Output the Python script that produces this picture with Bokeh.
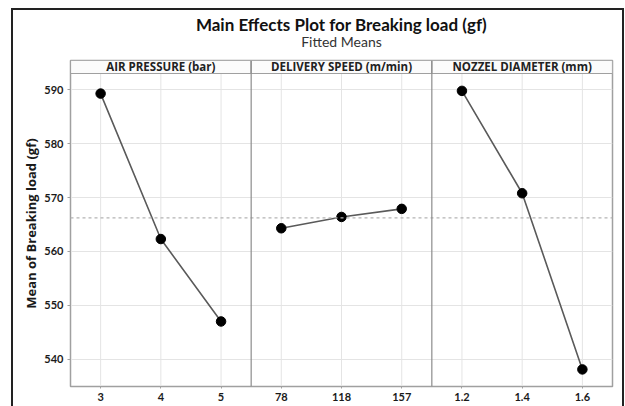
import numpy as np
from bokeh.plotting import figure
from bokeh.layouts import column
from bokeh.models import FixedTicker, Span, Range1d
from bokeh.core.properties import value
from bokeh.embed import file_html
from bokeh.resources import INLINE

# ---- data ----
title_text = "Main Effects Plot for Breaking load (gf)"
subtitle_text = "Fitted Means"
panel_names = ["AIR PRESSURE (bar)", "DELIVERY SPEED (m/min)", "NOZZEL DIAMETER (mm)"]
air_levels = ["3", "4", "5"]
air_means = [589.3, 562.3, 547.0]
speed_levels = ["78", "118", "157"]
speed_means = [564.3, 566.4, 567.9]
nozzle_levels = ["1.2", "1.4", "1.6"]
nozzle_means = [589.8, 570.8, 538.1]
y_ticks = [540, 550, 560, 570, 580, 590]

levels = [air_levels, speed_levels, nozzle_levels]
means = [air_means, speed_means, nozzle_means]
grand_mean = float(np.mean(air_means + speed_means + nozzle_means))

FONT = "Lato"
SFONT = "Open Sans"
GRAY = "#a0a0a0"

y_lo, y_strip, y_hi = 534.93, 593.03, 595.44

p = figure(width=609, height=348, output_backend="svg", toolbar_location=None,
           x_range=Range1d(-0.5, 8.5), y_range=Range1d(y_lo, y_hi),
           min_border_left=57, min_border_right=10, min_border_top=2,
           min_border_bottom=20)
p.background_fill_color = "white"
p.border_fill_color = "white"
p.outline_line_color = GRAY
p.outline_line_width = 1.5

# header figure with title and subtitle, sharing the x range
h = figure(width=609, height=48, output_backend="svg", toolbar_location=None,
           x_range=p.x_range, y_range=Range1d(0, 1),
           x_axis_type=None, y_axis_type=None,
           min_border_left=57, min_border_right=10, min_border_top=0,
           min_border_bottom=0)
h.outline_line_color = None
h.background_fill_color = "white"
h.border_fill_color = "white"
xc = (p.x_range.start + p.x_range.end) / 2
h.text(x=[xc], y=[0.708], text=[title_text], text_font=value(FONT),
       text_font_style="bold", text_font_size="17px", text_align="center",
       text_baseline="middle", text_color="#111111")
h.text(x=[xc], y=[0.354], text=[subtitle_text], text_font=value(FONT),
       text_font_style="normal", text_font_size="14px", text_align="center",
       text_baseline="middle", text_color="#333333")

# axes
tick_pos = []
tick_lab = {}
for k, lv in enumerate(levels):
    for i, lab in enumerate(lv):
        tick_pos.append(3 * k + i)
        tick_lab[3 * k + i] = lab

p.xaxis.ticker = FixedTicker(ticks=tick_pos)
p.xaxis.major_label_overrides = tick_lab
p.yaxis.ticker = FixedTicker(ticks=y_ticks)
for ax in (p.xaxis, p.yaxis):
    ax.axis_line_color = GRAY
    ax.major_tick_line_color = GRAY
    ax.minor_tick_line_color = None
    ax.major_tick_in = 0
    ax.major_label_text_font = FONT
    ax.major_label_text_font_style = "bold"
    ax.major_label_text_font_size = "11px"
    ax.major_label_text_color = "#1a1a1a"
p.xaxis.major_tick_out = 2
p.xaxis.major_label_standoff = 4
p.yaxis.major_tick_out = 3
p.yaxis.major_label_standoff = 4
p.yaxis.axis_label = "Mean of Breaking load (gf)"
p.yaxis.axis_label_text_font = SFONT
p.yaxis.axis_label_text_font_style = "bold"
p.yaxis.axis_label_text_font_size = "13px"
p.yaxis.axis_label_text_color = "#1a1a1a"
p.yaxis.axis_label_standoff = 1

p.xgrid.grid_line_color = None
p.ygrid.ticker = FixedTicker(ticks=y_ticks)
p.ygrid.grid_line_color = "#e4e4e4"

# vertical grid lines (stop at strip)
p.segment(x0=tick_pos, y0=[y_lo] * len(tick_pos), x1=tick_pos,
          y1=[y_strip] * len(tick_pos), line_color="#e4e4e4", line_width=1)

# reference mean line
p.add_layout(Span(location=grand_mean, dimension="width", line_color="#b4b4b4",
                  line_dash="3 3", line_width=1.2))

# strips
lefts = [3 * k - 0.5 for k in range(3)]
rights = [3 * k + 2.5 for k in range(3)]
p.quad(left=lefts, right=rights, bottom=[y_strip] * 3, top=[y_hi] * 3,
       fill_color="#fbfbfb", line_color=GRAY, line_width=1.2)
p.text(x=[3 * k + 1 for k in range(3)], y=[(y_strip + y_hi) / 2] * 3, text=panel_names,
       text_font=value(SFONT), text_font_style="bold", text_font_size="11.5px",
       text_align="center", text_baseline="middle", text_color="#222222")

# panel dividers
for k in range(1, 3):
    p.add_layout(Span(location=3 * k - 0.5, dimension="height",
                      line_color="#8c8c8c", line_width=1.2))

# data lines and points
for k in range(3):
    xs = [3 * k + i for i in range(len(levels[k]))]
    p.line(xs, means[k], line_color="#5a5a5a", line_width=1.6)
    p.scatter(xs, means[k], size=9.5, fill_color="black", line_color="black")

layout = column(h, p, spacing=0,
                styles={"margin-left": "11px", "margin-top": "8px",
                        "border-left": "2px solid #222222",
                        "border-top": "2px solid #222222",
                        "border-right": "2px solid #222222"})

open("out.html", "w").write(file_html(layout, INLINE))
